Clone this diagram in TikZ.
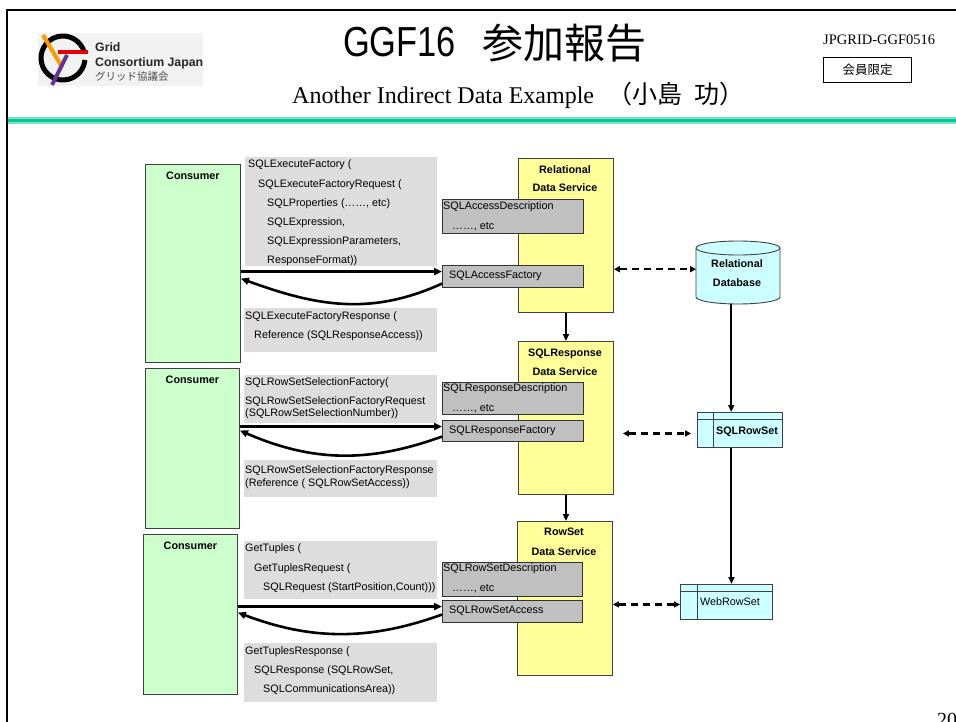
\documentclass[tikz,border=0pt]{standalone}
\usepackage{fontspec}
\setmainfont{Liberation Sans}
\newfontfamily\seriffont{Liberation Serif}
\newfontfamily\titlefont[FakeStretch=0.82]{Liberation Sans}
\newfontfamily\cjkfont{Noto Sans CJK JP}
\usetikzlibrary{arrows.meta}
\definecolor{consgreen}{HTML}{CCFFCC}
\definecolor{dsyellow}{HTML}{FFFF99}
\definecolor{msggray}{HTML}{DDDDDD}
\definecolor{boxgray}{HTML}{C0C0C0}
\definecolor{tabcyan}{HTML}{CCFFFF}
\definecolor{teal1}{HTML}{00C896}
\definecolor{teal2}{HTML}{7FE0C4}
\definecolor{logoorange}{HTML}{FF9900}
\definecolor{logored}{HTML}{E00000}
\definecolor{logopurple}{HTML}{663399}
\begin{document}
\begin{tikzpicture}[x=1pt,y=-1pt,
  box/.style={draw=black!75, line width=0.9pt, inner sep=0, anchor=north west},
  cons/.style={box, fill=consgreen},
  dsbox/.style={box, fill=dsyellow},
  msg/.style={fill=msggray, inner sep=0, anchor=north west},
  darkbox/.style={box, fill=boxgray, draw=black!80, line width=1.1pt},
  tab/.style={box, fill=tabcyan},
  t/.style={font=\fontsize{10.8}{12}\selectfont, inner sep=0, anchor=west, text height=8pt, text depth=2pt},
  tb/.style={t, font=\fontsize{10.8}{12}\selectfont\bfseries, anchor=center},
  tc/.style={t, anchor=center},
  req/.style={line width=2.6pt, -{Triangle[length=8pt,width=7pt]}},
  vline/.style={line width=2pt, -{Triangle[length=7pt,width=6pt]}},
  dsh/.style={line width=2.2pt, dash pattern=on 7pt off 5pt, {Triangle[length=6pt,width=6pt]}-{Triangle[length=6pt,width=6pt]}}
]
\path[use as bounding box, fill=white] (0,0) rectangle (956,722);

% frame and header rule
\draw[line width=2.5pt] (7,740) -- (7,10) -- (970,10);
\draw[teal2, line width=7pt] (8,121) -- (970,121);
\draw[teal1, line width=3.5pt] (8,120.5) -- (970,120.5);

% logo
\fill[black!5] (38,33) rectangle (203,86);
\draw[line width=5pt] (63,58) ++(15:22pt) arc[start angle=15, end angle=355, radius=22pt];
\draw[logoorange, line width=4pt] (43,35) -- (62,67);
\draw[logored, line width=4pt] (58,52) -- (88,52);
\draw[logopurple, line width=4pt] (67,55) -- (52,85);
\node[anchor=west, inner sep=0, font=\fontsize{12.3}{13}\selectfont\bfseries, text=black!85] (lg1) at (95,47) {Grid};
\node[anchor=west, inner sep=0, font=\fontsize{12.3}{13}\selectfont\bfseries, text=black!85] (lg2) at (95,63) {Consortium Japan};
\node[anchor=west, inner sep=0, font=\cjkfont\fontsize{10.5}{12}\selectfont, text=black!70] (lg3) at (95,77) {グリッド協議会};

% titles
\node[anchor=base west, inner sep=0, font=\titlefont\fontsize{42}{46}\selectfont] (ttl) at (343,57) {GGF16};
\node[anchor=base west, inner sep=0, font=\cjkfont\fontsize{41}{46}\selectfont] (ttljp) at (482,59) {参加報告};
\node[anchor=base west, inner sep=0, font=\seriffont\fontsize{24}{26}\selectfont] (sub) at (292,104) {Another Indirect Data Example};
\node[anchor=base east, inner sep=0, font=\cjkfont\fontsize{25}{28}\selectfont] (subjp) at (745,104) {（小島\hspace{12pt}功）};
\node[anchor=base west, inner sep=0, font=\seriffont\fontsize{14.5}{16}\selectfont] (docid) at (823,45) {JPGRID-GGF0516};
\node[draw, line width=1pt, inner sep=0, minimum width=88pt, minimum height=25pt, anchor=north west] (mem) at (823,57) {};
\node[inner sep=0, font=\cjkfont\fontsize{12.5}{14}\selectfont] (memt) at (mem.center) {会員限定};
\node[anchor=base west, inner sep=0, font=\seriffont\fontsize{20}{22}\selectfont] (pg) at (937,726) {20};

% message boxes
\node[msg, minimum width=192pt, minimum height=109pt] (m1) at (245,157) {};
\node[msg, minimum width=193pt, minimum height=44pt] (m1r) at (244,308) {};
\node[msg, minimum width=193pt, minimum height=48pt] (m2) at (244,375) {};
\node[msg, minimum width=193pt, minimum height=37pt] (m2r) at (244,460) {};
\node[msg, minimum width=193pt, minimum height=58pt] (m3) at (244,541) {};
\node[msg, minimum width=193pt, minimum height=59pt] (m3r) at (244,643) {};

\node[t] (m1a) at (248,165) {SQLExecuteFactory (};
\node[t] (m1b) at (258,185) {SQLExecuteFactoryRequest (};
\node[t] (m1c) at (267,204) {SQLProperties (……, etc)};
\node[t] (m1d) at (267,223) {SQLExpression,};
\node[t] (m1e) at (267,242) {SQLExpressionParameters,};
\node[t] (m1f) at (267,261) {ResponseFormat))};
\node[t] (m1ra) at (245,316) {SQLExecuteFactoryResponse (};
\node[t] (m1rb) at (254,335) {Reference (SQLResponseAccess))};
\node[t] (m2a) at (245,382) {SQLRowSetSelectionFactory(};
\node[t] (m2b) at (245,401) {SQLRowSetSelectionFactoryRequest};
\node[t] (m2c) at (245,413) {(SQLRowSetSelectionNumber))};
\node[t] (m2ra) at (245,470) {SQLRowSetSelectionFactoryResponse};
\node[t] (m2rb) at (245,483) {(Reference ( SQLRowSetAccess))};
\node[t] (m3a) at (245,548) {GetTuples (};
\node[t] (m3b) at (254,568) {GetTuplesRequest (};
\node[t] (m3c) at (263,587) {SQLRequest (StartPosition,Count)))};
\node[t] (m3ra) at (245,651) {GetTuplesResponse (};
\node[t] (m3rb) at (254,670) {SQLResponse (SQLRowSet,};
\node[t] (m3rc) at (263,689) {SQLCommunicationsArea))};

% consumers
\node[cons, minimum width=95pt, minimum height=198pt] (c1) at (145,164) {};
\node[cons, minimum width=94pt, minimum height=160pt] (c2) at (145,368) {};
\node[cons, minimum width=94pt, minimum height=160pt] (c3) at (143,534) {};
\node[tb] (c1t) at ([yshift=-13pt]c1.north) {Consumer};
\node[tb] (c2t) at ([yshift=-12pt]c2.north) {Consumer};
\node[tb] (c3t) at ([yshift=-12pt]c3.north) {Consumer};

% data services
\node[dsbox, minimum width=95pt, minimum height=154pt] (ds1) at (518,158) {};
\node[dsbox, minimum width=95pt, minimum height=153pt] (ds2) at (518,341) {};
\node[dsbox, minimum width=95pt, minimum height=154pt] (ds3) at (517,521) {};
\node[tb] (ds1a) at (565,171) {Relational};
\node[tb] (ds1b) at (565,189) {Data Service};
\node[tb] (ds2a) at (565,353) {SQLResponse};
\node[tb] (ds2b) at (565,372) {Data Service};
\node[tb] (ds3a) at (564,532) {RowSet};
\node[tb] (ds3b) at (564,552) {Data Service};

% description / factory boxes
\node[darkbox, minimum width=141pt, minimum height=34pt] (d1) at (442,199) {};
\node[darkbox, minimum width=141pt, minimum height=22pt] (f1) at (442,265) {};
\node[darkbox, minimum width=141pt, minimum height=32pt] (d2) at (442,382) {};
\node[darkbox, minimum width=141pt, minimum height=21pt] (f2) at (442,420) {};
\node[darkbox, minimum width=140pt, minimum height=34pt] (d3) at (442,562) {};
\node[darkbox, minimum width=140pt, minimum height=22pt] (f3) at (442,600) {};
\node[t] (d1a) at (443,207) {SQLAccessDescription};
\node[t] (d1b) at (452,227) {……, etc};
\node[t] (f1a) at (449,276) {SQLAccessFactory};
\node[t] (d2a) at (443,388) {SQLResponseDescription};
\node[t] (d2b) at (452,408) {……, etc};
\node[t] (f2a) at (449,430) {SQLResponseFactory};
\node[t] (d3a) at (443,568) {SQLRowSetDescription};
\node[t] (d3b) at (452,588) {……, etc};
\node[t] (f3a) at (449,610) {SQLRowSetAccess};

% relational database cylinder
\path[fill=tabcyan, draw=black!75, line width=0.9pt] (696,248) -- (696,297)
  arc[start angle=180, end angle=360, x radius=42pt, y radius=7pt] -- (780,248)
  arc[start angle=0, end angle=180, x radius=42pt, y radius=7pt] -- cycle;
\draw[black!75, line width=0.9pt] (696,248) arc[start angle=180, end angle=360, x radius=42pt, y radius=7pt];
\node[inner sep=0, minimum width=84pt, minimum height=63pt, anchor=north west] (db) at (696,241) {};
\node[tb] (dba) at (737,264) {Relational};
\node[tb] (dbb) at (737,283) {Database};

% tables
\node[tab, minimum width=85pt, minimum height=35pt] (rs) at (697,412) {};
\draw[black!75, line width=0.9pt] ([xshift=16pt]rs.north west) -- ([xshift=16pt]rs.south west);
\draw[black!75, line width=0.9pt] ([yshift=-7pt]rs.north west) -- ([yshift=-7pt]rs.north east);
\node[tb] (rst) at (747,431) {SQLRowSet};
\node[tab, minimum width=92pt, minimum height=35pt] (wrs) at (680,584) {};
\draw[black!75, line width=0.9pt] ([xshift=17pt]wrs.north west) -- ([xshift=17pt]wrs.south west);
\draw[black!75, line width=0.9pt] ([yshift=-7pt]wrs.north west) -- ([yshift=-7pt]wrs.north east);
\node[tc] (wrst) at (730,602) {WebRowSet};

% vertical arrows
\draw[vline] (ds1.south) -- (ds2.north);
\draw[vline] (ds2.south) -- (ds2.south |- ds3.north);
\draw[vline] ([xshift=-7pt]db.south) -- ([xshift=-7pt]db.south |- rs.north);
\draw[vline] ([xshift=-8.5pt]rs.south) -- ([xshift=-8.5pt]rs.south |- wrs.north);

% dashed arrows
\coordinate (dA) at ([yshift=3.5pt]db.west);
\draw[dsh] (ds1.east |- dA) -- (dA);
\coordinate (dB) at ([yshift=-3.5pt]rs.west);
\draw[dsh, shorten <=9pt, shorten >=6pt] (ds2.east |- dB) -- (dB);
\coordinate (dC) at ([yshift=-2.5pt]wrs.west);
\draw[dsh] (ds3.east |- dC) -- (dC);

% request / response arrows
\coordinate (q1) at ([yshift=5pt]f1.west);
\coordinate (p1) at (c1.east |- q1);
\draw[req] (p1) -- (q1);
\draw[req] ([yshift=-7pt]f1.west) .. controls +(-72,33) and +(74,27) .. ([yshift=-7pt]p1);

\coordinate (q2) at ([yshift=4.5pt]f2.west);
\coordinate (p2) at (c2.east |- q2);
\draw[req] (p2) -- (q2);
\draw[req] ([yshift=-5.5pt]f2.west) .. controls +(-72,26) and +(74,32) .. ([yshift=-4pt]p2);

\coordinate (q3) at ([yshift=5pt]f3.west);
\coordinate (p3) at (c3.east |- q3);
\draw[req] (p3) -- (q3);
\draw[req] ([yshift=-3pt]f3.west) .. controls +(-72,26) and +(74,28) .. ([yshift=-6pt]p3);
\end{tikzpicture}
\end{document}
